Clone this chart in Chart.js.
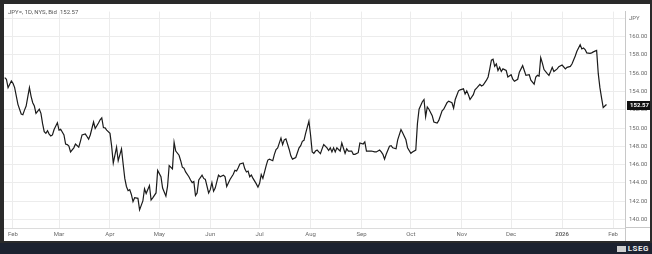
<!DOCTYPE html>
<html>
<head>
<meta charset="utf-8">
<script src="https://cdn.jsdelivr.net/npm/chart.js@4/dist/chart.umd.min.js"></script>
<style>
    html, body { margin: 0; padding: 0; background: #262626; }
    #frame { position: relative; width: 652px; height: 254px; background: #2a2a2a; overflow: hidden; }
    #panel { position: absolute; left: 4px; top: 4px; width: 646px; height: 237px; background: #fff; }
    #caption { position: absolute; left: 4px; top: 4px; font: 6px Roboto, sans-serif; color: #555; white-space: pre; }
    #footer { position: absolute; left: 0; top: 243px; width: 652px; height: 11px; background: #1c2230; }
    #logo { position: absolute; right: 3px; top: 0px; font: bold 8px Roboto, sans-serif; color: #e8e8e8; line-height: 11px; letter-spacing: 0.5px; }
    #logo i { display: inline-block; width: 9px; height: 6px; background: #cfcfcf; margin-right: 2px; vertical-align: -0.5px; }
</style>
</head>
<body>
<div id="frame">
    <div id="panel">
        <canvas id="fxChart"></canvas>
        <div id="caption">JPY=, 1D, NYS, Bid  152.57</div>
    </div>
    <div id="footer"><span id="logo"><i></i>LSEG</span></div>
</div>
<script>
// days counted from 1 Feb 2025, daily bid of USD/JPY
const days = [
    -5, -4, -3, -1, 0, 1, 3, 5, 6, 7, 8, 10, 11, 12, 13, 14, 16, 17, 18, 19,
    20, 21, 22, 23, 24, 25, 27, 28, 29, 31, 32, 33, 34, 35, 37, 38, 40, 41, 42, 44,
    45, 46, 47, 49, 50, 52, 53, 54, 55, 56, 57, 59, 60, 61, 62, 63, 64, 66, 67, 68,
    69, 70, 71, 72, 73, 74, 76, 77, 79, 80, 81, 83, 84, 85, 87, 88, 90, 91, 93, 94,
    95, 97, 98, 99, 101, 102, 103, 104, 105, 107, 108, 109, 110, 111, 112, 113, 115, 116, 117, 119,
    120, 121, 122, 123, 125, 126, 128, 129, 130, 132, 134, 135, 136, 137, 138, 140, 141, 142, 143, 144,
    145, 146, 148, 149, 150, 151, 152, 154, 155, 156, 158, 159, 160, 161, 163, 164, 165, 166, 168, 169,
    170, 172, 174, 175, 176, 177, 178, 180, 181, 182, 183, 184, 185, 186, 187, 188, 189, 191, 192, 193,
    194, 195, 196, 197, 198, 199, 200, 202, 203, 204, 206, 207, 208, 210, 211, 213, 214, 215, 217, 218,
    220, 221, 223, 224, 225, 226, 227, 229, 230, 231, 233, 234, 236, 237, 239, 240, 242, 243, 245, 246,
    247, 249, 250, 251, 252, 253, 255, 256, 258, 259, 261, 262, 264, 265, 267, 268, 269, 271, 272, 274,
    275, 276, 277, 278, 280, 281, 282, 284, 285, 286, 288, 289, 290, 291, 292, 293, 294, 295, 296, 297,
    298, 300, 301, 303, 304, 305, 307, 308, 310, 311, 312, 314, 315, 317, 318, 319, 320, 321, 322, 323,
    325, 326, 327, 328, 329, 331, 332, 334, 336, 337, 339, 340, 342, 343, 345, 346, 347, 348, 349, 351,
    352, 353, 355, 356, 357, 358, 359, 360, 361
];
const bids = [
    155.52, 155.34, 154.42, 155.16, 154.89, 154.42, 152.59, 151.53, 151.46, 151.96, 152.41, 154.42, 153.47, 152.77, 152.41, 151.61, 152.06, 151.61, 150.48, 149.60,
    149.42, 149.70, 149.34, 149.13, 149.24, 149.84, 150.58, 149.77, 149.87, 149.24, 148.25, 148.18, 148.01, 147.38, 147.83, 148.25, 147.90, 148.54, 149.24, 149.34,
    149.07, 148.78, 149.24, 150.66, 149.95, 150.55, 150.90, 151.11, 150.05, 150.02, 149.77, 149.42, 148.01, 146.17, 147.02, 147.90, 146.42, 147.72, 146.06, 144.48,
    143.60, 143.14, 143.25, 142.72, 141.94, 142.36, 142.30, 141.03, 142.01, 143.35, 142.83, 143.70, 142.12, 142.36, 142.89, 145.36, 144.66, 143.42, 142.54, 143.60,
    145.89, 145.53, 148.43, 147.48, 147.02, 146.42, 145.71, 145.61, 145.19, 144.66, 144.31, 144.02, 144.13, 142.61, 142.89, 144.31, 144.84, 144.48, 144.37, 142.89,
    143.25, 144.02, 143.07, 143.42, 144.84, 144.66, 144.84, 144.66, 143.60, 144.37, 144.94, 145.36, 145.29, 145.64, 146.06, 146.17, 145.53, 145.19, 145.29, 144.66,
    144.84, 144.48, 143.88, 143.52, 143.95, 144.90, 144.48, 145.89, 146.49, 146.59, 146.42, 147.12, 147.65, 147.83, 148.89, 148.18, 148.71, 148.81, 147.65, 146.95,
    146.59, 146.77, 147.83, 148.07, 148.54, 148.65, 149.42, 150.76, 149.24, 147.38, 147.23, 147.48, 147.59, 147.38, 147.20, 147.72, 148.18, 147.83, 147.54, 147.83,
    147.38, 147.83, 147.38, 147.83, 147.65, 147.48, 148.36, 147.23, 147.72, 147.48, 147.48, 147.12, 147.12, 147.30, 148.36, 148.25, 148.47, 147.48, 147.48, 147.48,
    147.38, 147.38, 147.59, 147.38, 147.12, 146.59, 147.12, 148.01, 148.07, 147.83, 147.72, 148.71, 149.84, 149.49, 148.71, 147.83, 147.23, 147.38, 147.59, 150.48,
    152.06, 152.88, 153.12, 151.25, 152.31, 152.06, 151.35, 150.66, 150.55, 150.83, 151.88, 152.06, 152.77, 152.94, 152.77, 152.17, 153.12, 154.07, 154.18, 154.29,
    153.72, 154.07, 153.65, 153.12, 153.65, 154.18, 154.36, 154.78, 154.60, 154.71, 155.24, 155.59, 156.48, 157.43, 157.53, 156.75, 157.01, 156.30, 156.65, 156.19,
    156.48, 156.30, 155.59, 155.84, 155.34, 155.13, 155.34, 156.12, 156.83, 156.30, 155.77, 155.84, 155.24, 154.81, 155.59, 155.77, 155.69, 157.70, 157.11, 156.40,
    155.95, 155.77, 156.19, 156.65, 156.19, 156.48, 156.72, 156.90, 156.48, 156.65, 156.75, 157.01, 157.88, 158.41, 159.12, 158.66, 158.76, 158.59, 158.23, 158.17,
    158.23, 158.34, 158.49, 155.95, 154.42, 153.30, 152.24, 152.41, 152.57
];

// month boundaries (days from 1 Feb 2025) and their labels
const monthTicks = [0, 28, 59, 89, 120, 150, 181, 212, 242, 273, 303, 334, 365];
const monthLabels = ['Feb', 'Mar', 'Apr', 'May', 'Jun', 'Jul', 'Aug', 'Sep', 'Oct', 'Nov', 'Dec', '2026', 'Feb'];
const priceTicks = [140, 142, 144, 146, 148, 150, 152, 154, 156, 158, 160, 162];
const currencyLabel = 'JPY';

const gridColor = '#ececec';
const tickColor = '#6b6b6b';

// black box with the last price on the right axis
const lastPriceTag = {
    id: 'lastPriceTag',
    afterDraw(chart) {
        const ctx = chart.ctx;
        const area = chart.chartArea;
        const last = bids[bids.length - 1];
        const y = chart.scales.y.getPixelForValue(last);

        ctx.save();
        // axis separator running down past the plot, and the short line under the price axis
        ctx.strokeStyle = '#c8c8c8';
        ctx.lineWidth = 1;
        ctx.beginPath();
        ctx.moveTo(area.right + 0.5, area.bottom);
        ctx.lineTo(area.right + 0.5, chart.height);
        ctx.moveTo(area.right, area.bottom - 0.5);
        ctx.lineTo(chart.width, area.bottom - 0.5);
        ctx.stroke();

        const x0 = area.right + 2;
        ctx.fillStyle = '#111';
        ctx.fillRect(x0, Math.round(y) - 4, chart.width - x0 + 2, 9);
        ctx.fillStyle = '#fff';
        ctx.font = 'bold 6px Roboto, sans-serif';
        ctx.textBaseline = 'middle';
        ctx.fillText(last.toFixed(2), x0 + 3, Math.round(y) + 0.5);
        ctx.restore();
    }
};

const ctx = document.getElementById('fxChart').getContext('2d');
const fxChart = new Chart(ctx, {
    type: 'line',
    data: {
        datasets: [{
            label: 'JPY= Bid',
            data: days.map((d, i) => ({ x: d, y: bids[i] })),
            borderColor: '#1b1b1b',
            borderWidth: 1.2,
            pointRadius: 0,
            tension: 0,
            fill: false
        }]
    },
    options: {
        responsive: true,
        maintainAspectRatio: false,
        animation: false,
        events: [],
        layout: { padding: 0 },
        plugins: {
            legend: { display: false },
            tooltip: { enabled: false }
        },
        scales: {
            x: {
                type: 'linear',
                min: -5.47,
                max: 372.26,
                afterBuildTicks: scale => { scale.ticks = monthTicks.map(v => ({ value: v })); },
                afterFit: scale => { scale.height = 13; },
                grid: { color: gridColor, drawTicks: false },
                border: { display: true, color: '#dcdcdc' },
                ticks: {
                    autoSkip: false,
                    maxRotation: 0,
                    padding: 3,
                    color: tickColor,
                    font: c => ({ family: 'Roboto, sans-serif', size: 6, weight: (c.tick && c.tick.label === '2026') ? 'bold' : 'normal' }),
                    callback: (value, index) => monthLabels[index]
                }
            },
            y: {
                position: 'right',
                min: 139.05,
                max: 162.75,
                afterBuildTicks: scale => { scale.ticks = priceTicks.map(v => ({ value: v })); },
                afterFit: scale => { scale.width = 25; },
                grid: { color: gridColor, drawTicks: false },
                border: { display: true, color: '#c8c8c8' },
                ticks: {
                    padding: 4,
                    color: tickColor,
                    font: { family: 'Roboto, sans-serif', size: 6 },
                    callback: value => value === 162 ? currencyLabel : value.toFixed(2)
                }
            }
        }
    },
    plugins: [lastPriceTag]
});
</script>
</body>
</html>
